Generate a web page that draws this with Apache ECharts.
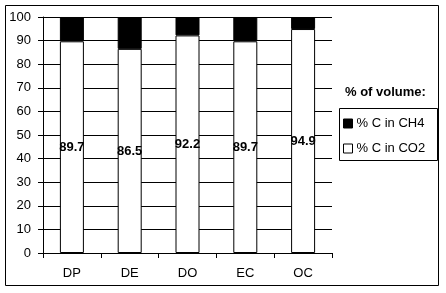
<!DOCTYPE html>
<html>
<head>
<meta charset="utf-8">
<script src="https://cdn.jsdelivr.net/npm/echarts@6/dist/echarts.min.js"></script>
<style>html,body{margin:0;padding:0;background:#fff}#c{width:446px;height:293px}</style>
</head>
<body>
<div id="c"></div>
<script>
const categories = ['DP', 'DE', 'DO', 'EC', 'OC'];
const co2 = [89.7, 86.5, 92.2, 89.7, 94.9];
const ch4 = [10.3, 13.5, 7.8, 10.3, 5.1];
const yTicks = [0, 10, 20, 30, 40, 50, 60, 70, 80, 90, 100];

const FONT = 'Liberation Sans, Arial, sans-serif';
const chart = echarts.init(document.getElementById('c'), null, {renderer: 'canvas'});
chart.setOption({
  animation: false,
  backgroundColor: '#fff',
  textStyle: {fontFamily: FONT, color: '#000'},
  title: {
    text: '% of volume:',
    left: 345, top: 86,
    padding: 0,
    textStyle: {fontFamily: FONT, fontSize: 13, fontWeight: 'bold', color: '#000'}
  },
  legend: {
    left: 343, top: 117,
    orient: 'vertical',
    itemWidth: 9, itemHeight: 9, itemGap: 12,
    padding: 0,
    textStyle: {fontFamily: FONT, fontSize: 13, color: '#000', padding: [0,0,0,-1]},
    data: [
      {name: '% C in CH4', icon: 'rect', itemStyle: {color: '#000', borderColor: '#000', borderWidth: 1}},
      {name: '% C in CO2', icon: 'rect', itemStyle: {color: '#fff', borderColor: '#000', borderWidth: 1}}
    ]
  },
  graphic: [
    {type: 'rect', shape: {x: 5.5, y: 5.5, width: 433, height: 280}, style: {fill: null, stroke: '#000', lineWidth: 1}, z: 100},
    {type: 'rect', shape: {x: 339.5, y: 108.5, width: 98, height: 52}, style: {fill: null, stroke: '#000', lineWidth: 1}, z: 100}
  ],
  grid: {left: 43, top: 17, right: 114, bottom: 40, containLabel: false},
  xAxis: {
    type: 'category',
    data: categories,
    axisLine: {lineStyle: {color: '#000', width: 1}},
    axisTick: {show: true, length: 5, lineStyle: {color: '#000'}},
    axisLabel: {color: '#000', fontSize: 13, fontFamily: FONT, margin: 14}
  },
  yAxis: {
    type: 'value',
    min: yTicks[0], max: yTicks[yTicks.length - 1], interval: 10,
    axisLine: {show: true, lineStyle: {color: '#000', width: 1}},
    axisTick: {show: true, length: 5, lineStyle: {color: '#000'}},
    axisLabel: {color: '#000', fontSize: 13, fontFamily: FONT, margin: 12},
    splitLine: {show: true, lineStyle: {color: '#000', width: 1}}
  },
  series: [
    {
      name: '% C in CO2', type: 'bar', stack: 's', data: co2, barWidth: 24,
      itemStyle: {color: '#fff', borderColor: '#000', borderWidth: 1},
      label: {show: true, position: 'inside', color: '#000', fontWeight: 'bold', fontSize: 13, fontFamily: FONT}
    },
    {
      name: '% C in CH4', type: 'bar', stack: 's', data: ch4, barWidth: 24,
      itemStyle: {color: '#000', borderColor: '#000', borderWidth: 1}
    }
  ]
});
</script>
</body>
</html>
